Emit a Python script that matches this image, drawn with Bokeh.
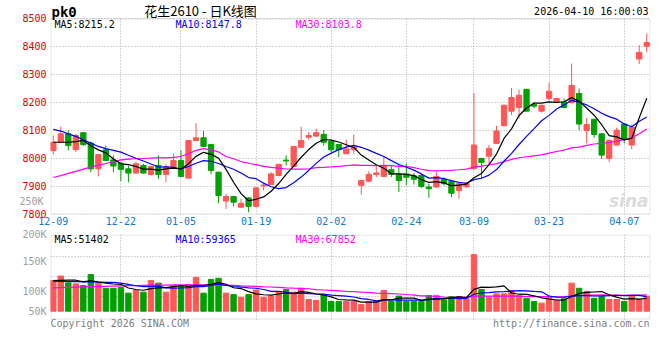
from bokeh.plotting import figure
from bokeh.layouts import column
from bokeh.models import ColumnDataSource, FixedTicker, Label, Range1d, BoxAnnotation, LinearAxis
from bokeh.embed import file_html
from bokeh.resources import INLINE

# ---------------- data ----------------
dates = ["12-09", "12-10", "12-11", "12-12", "12-15", "12-16", "12-17", "12-18", "12-19",
         "12-22", "12-23", "12-24", "12-25", "12-26", "12-29", "12-30", "12-31",
         "01-05", "01-06", "01-07", "01-08", "01-09", "01-12", "01-13", "01-14", "01-15", "01-16",
         "01-19", "01-20", "01-21", "01-22", "01-23", "01-26", "01-27", "01-28", "01-29", "01-30",
         "02-02", "02-03", "02-04", "02-05", "02-06", "02-09", "02-10", "02-11", "02-12", "02-13",
         "02-24", "02-25", "02-26", "02-27",
         "03-02", "03-03", "03-04", "03-05", "03-06",
         "03-09", "03-10", "03-11", "03-12", "03-13",
         "03-16", "03-17", "03-18", "03-19", "03-20",
         "03-23", "03-24", "03-25", "03-26", "03-27",
         "03-30", "03-31", "04-01", "04-02", "04-03",
         "04-07", "04-08", "04-09", "04-10"]

tick_dates = ["12-09", "12-22", "01-05", "01-19", "02-02", "02-24", "03-09", "03-23", "04-07"]

open_ = [8028, 8058, 8088, 8032, 8092, 8055, 7963, 8031, 7995, 7983,
         7963, 7948, 7975, 7943, 7975, 7943, 7971, 7993, 7930, 8064,
         8074, 8050, 7951, 7848, 7864, 7826, 7859, 7829, 7902, 7907,
         7939, 7994, 7971, 8040, 8076, 8080, 8086, 8061, 8050, 8017,
         8031, 7904, 7919, 7943, 7936, 7960, 7945, 7945, 7938, 7939,
         7898, 7898, 7925, 7918, 7885, 7899, 7964, 8000, 8008, 8054,
         8117, 8169, 8182, 8247, 8193, 8169, 8214, 8200, 8202, 8200,
         8232, 8100, 8140, 8088, 8000, 8048, 8123, 8048, 8355, 8401]
high = [8082, 8114, 8100, 8088, 8094, 8060, 8016, 8046, 8011, 7989,
        7974, 7989, 7981, 7972, 8011, 7981, 8017, 8029, 8066, 8126,
        8098, 8052, 7953, 7874, 7866, 7856, 7862, 7897, 7912, 7951,
        7981, 8011, 8045, 8114, 8094, 8106, 8102, 8063, 8052, 8067,
        8086, 7923, 7954, 7975, 8005, 7975, 7981, 7981, 7948, 7945,
        7910, 7951, 7933, 7920, 7915, 7916, 8234, 8002, 8048, 8117,
        8193, 8252, 8246, 8249, 8202, 8192, 8271, 8217, 8214, 8339,
        8250, 8145, 8142, 8090, 8067, 8110, 8125, 8121, 8405, 8446]
low = [8014, 8056, 8029, 8023, 8046, 7951, 7936, 7990, 7951, 7919,
       7915, 7946, 7946, 7939, 7927, 7915, 7970, 7934, 7928, 8062,
       8041, 7943, 7840, 7820, 7829, 7824, 7808, 7825, 7886, 7905,
       7937, 7975, 7970, 8038, 8067, 8076, 8046, 8023, 8005, 8015,
       8017, 7871, 7915, 7933, 7934, 7933, 7880, 7904, 7907, 7895,
       7860, 7896, 7904, 7862, 7856, 7895, 7958, 7928, 7979, 8052,
       8115, 8155, 8143, 8169, 8179, 8164, 8208, 8198, 8179, 8196,
       8101, 8054, 8074, 7998, 7988, 8046, 8054, 8033, 8337, 8379]
close = [8058, 8088, 8046, 8082, 8049, 7963, 8014, 7993, 7973, 7961,
         7948, 7981, 7948, 7971, 7943, 7971, 7993, 7936, 8064, 8074,
         8043, 7957, 7868, 7864, 7844, 7840, 7829, 7895, 7905, 7945,
         7979, 7991, 8043, 8064, 8082, 8092, 8058, 8031, 8031, 8034,
         8043, 7921, 7943, 7948, 7971, 7943, 7921, 7933, 7926, 7900,
         7892, 7936, 7910, 7876, 7910, 7911, 8048, 7986, 8036, 8098,
         8190, 8218, 8226, 8169, 8187, 8190, 8240, 8214, 8182, 8261,
         8123, 8121, 8086, 8012, 8065, 8101, 8069, 8112, 8379, 8414]

volume = [126000, 144000, 116000, 112000, 105000, 150000, 115000, 94000, 94000, 98000,
          74000, 85000, 78000, 126000, 115000, 78000, 105000, 101000, 108000, 139000,
          74000, 130000, 135000, 74000, 68000, 57000, 68000, 87000, 57000, 62000,
          78000, 89000, 78000, 94000, 48000, 44000, 68000, 40000, 40000, 40000,
          40000, 27000, 40000, 40000, 85000, 40000, 62000, 40000, 40000, 40000,
          64000, 64000, 46000, 60000, 60000, 51000, 232000, 89000, 57000, 71000,
          71000, 85000, 64000, 53000, 40000, 33000, 60000, 44000, 51000, 115000,
          94000, 81000, 53000, 60000, 48000, 48000, 40000, 62000, 48000, 62000]

# moving-average values at the start of the window (they need earlier sessions)
ma5_head = [8058, 8058, 8058, 8060]
ma10_head = [8104, 8098, 8088, 8079, 8067, 8055, 8043, 8035, 8029]
ma30_head = [7932, 7939, 7947, 7954, 7962, 7969, 7976, 7982, 7989, 7995,
             7998, 7999, 8000, 8001, 8002, 8002, 8004, 8007, 8017, 8029,
             8035, 8031, 8023, 8007, 7999, 7989, 7983, 7978, 7972]
vma5_head = [125000, 126000, 127000, 127000]
vma10_head = [123000, 122000, 121000, 121000, 120000, 120000, 119000, 118000, 118000]
vma30_head = [96000, 97000, 98000, 99000, 100000, 101000, 101000, 102000, 103000, 104000,
              105000, 105000, 106000, 107000, 107000, 107000, 108000, 108000, 108000, 108000,
              108000, 108000, 108000, 107000, 106000, 104000, 103000, 102000, 100000]

price_header = ["MA5:8215.2", "MA10:8147.8", "MA30:8103.8"]
volume_header = ["MA5:51402", "MA10:59365", "MA30:67852"]
price_ticks = [7800, 7900, 8000, 8100, 8200, 8300, 8400, 8500]
symbol = "pk0"
title_text = "花生2610 - 日K线图"
stamp = "2026-04-10 16:00:03"
copyright_text = "Copyright 2026 SINA.COM"
url_text = "http://finance.sina.com.cn"


def rolling(vals, n, head):
    out = list(head)
    for i in range(len(head), len(vals)):
        out.append(sum(vals[i - n + 1:i + 1]) / n)
    return out


RED = "#ff5656"
GREEN = "#00a000"
MONO = "DejaVu Sans Mono"
GRID = "#aaaaaa"
BORDER = "#999999"

x = list(range(len(dates)))
colors = [RED if c >= o else GREEN for o, c in zip(open_, close)]
src = ColumnDataSource(dict(
    x=x, open=open_, high=high, low=low, close=close,
    top=[max(o, c) for o, c in zip(open_, close)],
    bottom=[min(o, c) for o, c in zip(open_, close)],
    color=colors, vol=volume,
    ma5=rolling(close, 5, ma5_head), ma10=rolling(close, 10, ma10_head), ma30=rolling(close, 30, ma30_head),
    vma5=rolling(volume, 5, vma5_head), vma10=rolling(volume, 10, vma10_head),
    vma30=rolling(volume, 30, vma30_head),
))

tick_idx = [dates.index(d) for d in tick_dates]
xr = Range1d(-0.37, 79.5)

# ---------------- price panel (frame also holds the header row) ----------------
PX = 0.28          # pixels per price unit
FRAME_H1 = 214     # frame height (px); price panel occupies its lower 196 px
p1 = figure(width=652, height=FRAME_H1 + 14, x_range=xr,
            y_range=Range1d(7799.9, 7800 + FRAME_H1 / PX),
            output_backend="svg", toolbar_location=None,
            min_border_left=50, min_border_right=2, min_border_top=0, min_border_bottom=14)
p1.outline_line_color = None

p1.segment(x0="x", y0="low", x1="x", y1="high", color="color", line_width=1, source=src)
p1.vbar(x="x", top="top", bottom="bottom", width=0.7, fill_color="color", line_color="color", source=src)
p1.line("x", "ma30", color="#ff00ff", line_width=1.2, source=src)
p1.line("x", "ma10", color="#0000ff", line_width=1.2, source=src)
p1.line("x", "ma5", color="black", line_width=1.2, source=src)

p1.add_layout(BoxAnnotation(left=0.5, right=599.5, top=195.5, bottom=0.5,
                            left_units="screen", right_units="screen",
                            top_units="screen", bottom_units="screen",
                            fill_alpha=0, fill_color=None, line_color=BORDER, line_width=1))

p1.xaxis.ticker = FixedTicker(ticks=tick_idx)
p1.xaxis.major_label_overrides = {i: dates[i] for i in tick_idx}
p1.yaxis.ticker = FixedTicker(ticks=price_ticks)
for ax in (p1.xaxis[0], p1.yaxis[0]):
    ax.axis_line_color = None
    ax.major_tick_line_color = None
    ax.minor_tick_line_color = None
    ax.major_tick_out = 0
    ax.major_label_text_font = MONO
    ax.major_label_text_font_size = "10px"
p1.xaxis.major_label_text_color = "#0a7bd0"
p1.xaxis.major_label_standoff = 2
p1.yaxis.major_label_text_color = "#e00000"
p1.yaxis.major_label_standoff = 4

# stray volume label that the original draws inside the price axis column
ax250 = LinearAxis(ticker=FixedTicker(ticks=[7846]), major_label_overrides={7846: "250K"},
                   axis_line_color=None, major_tick_line_color=None, minor_tick_line_color=None,
                   major_tick_out=0, major_label_standoff=-24,
                   major_label_text_font=MONO, major_label_text_font_size="10px",
                   major_label_text_color="#a0a0a0")
p1.add_layout(ax250, "left")

p1.xgrid.ticker = FixedTicker(ticks=tick_idx[1:])
p1.xgrid.cross_bounds = (7800, 8500)
p1.ygrid.ticker = FixedTicker(ticks=price_ticks)
for g in (p1.xgrid[0], p1.ygrid[0]):
    g.grid_line_color = GRID
    g.grid_line_dash = "1 2"

hdr_cols = ["black", "#0000ff", "#ff00ff"]
hdr_x = [4, 125, 245]
for t, c, hx in zip(price_header, hdr_cols, hdr_x):
    p1.add_layout(Label(x=hx, y=190, x_units="screen", y_units="screen", text=t,
                        text_color=c, text_font=MONO, text_font_size="10px",
                        text_baseline="middle"))
p1.add_layout(Label(x=1, y=203, x_units="screen", y_units="screen", text=symbol,
                    text_color="black", text_font=MONO, text_font_size="14px",
                    text_font_style="bold", text_baseline="middle"))
p1.add_layout(Label(x=150, y=204, x_units="screen", y_units="screen", text=title_text,
                    text_color="black", text_font="Noto Sans CJK SC", text_font_size="13px",
                    text_align="center", text_baseline="middle"))
p1.add_layout(Label(x=598, y=203, x_units="screen", y_units="screen", text=stamp,
                    text_color="black", text_font=MONO, text_font_size="10px",
                    text_align="right", text_baseline="middle"))
p1.add_layout(Label(x=598, y=14, x_units="screen", y_units="screen", text="sina",
                    text_color="#dcdcdc", text_font="DejaVu Sans", text_font_size="17px",
                    text_font_style="bold italic", text_align="right", text_baseline="middle"))

# ---------------- volume panel (frame also holds the footer row) ----------------
v_scale = 4100.0   # volume units per pixel
FRAME_H2 = 100
v_end = 76.7 * v_scale
v_start = -23.3 * v_scale
v_panel_bottom = -8.3 * v_scale
vol_labels = {v_end: "200K", 49.7 * v_scale: "150K", 20.0 * v_scale: "100K", 0.0: "50K"}
vol_grid = [55.0 * v_scale, 35.0 * v_scale, 15.0 * v_scale]

p2 = figure(width=652, height=FRAME_H2 + 6, x_range=xr, y_range=Range1d(v_start, v_end),
            output_backend="svg", toolbar_location=None,
            min_border_left=50, min_border_right=2, min_border_top=6, min_border_bottom=0)
p2.outline_line_color = None
p2.vbar(x="x", top="vol", bottom=0, width=0.72, fill_color="color", line_color="color", source=src)
p2.line("x", "vma30", color="#ff00ff", line_width=1.2, source=src)
p2.line("x", "vma10", color="#0000ff", line_width=1.2, source=src)
p2.line("x", "vma5", color="black", line_width=1.2, source=src)

p2.add_layout(BoxAnnotation(left=0.5, right=599.5, top=99.5, bottom=15.5,
                            left_units="screen", right_units="screen",
                            top_units="screen", bottom_units="screen",
                            fill_alpha=0, fill_color=None, line_color=BORDER, line_width=1))

p2.xaxis.visible = False
p2.xgrid.ticker = FixedTicker(ticks=tick_idx[1:])
p2.xgrid.cross_bounds = (v_panel_bottom, v_end)
p2.yaxis.ticker = FixedTicker(ticks=list(vol_labels.keys()))
p2.yaxis.major_label_overrides = vol_labels
p2.yaxis.axis_line_color = None
p2.yaxis.major_tick_line_color = None
p2.yaxis.minor_tick_line_color = None
p2.yaxis.major_tick_out = 0
p2.yaxis.major_label_standoff = 4
p2.yaxis.major_label_text_font = MONO
p2.yaxis.major_label_text_font_size = "10px"
p2.yaxis.major_label_text_color = "#a0a0a0"
p2.ygrid.ticker = FixedTicker(ticks=vol_grid)
for g in (p2.xgrid[0], p2.ygrid[0]):
    g.grid_line_color = GRID
    g.grid_line_dash = "1 2"

for t, c, hx in zip(volume_header, hdr_cols, hdr_x):
    p2.add_layout(Label(x=hx, y=95.5, x_units="screen", y_units="screen", text=t,
                        text_color=c, text_font=MONO, text_font_size="10px",
                        text_baseline="middle"))
p2.add_layout(Label(x=0, y=11, x_units="screen", y_units="screen", text=copyright_text,
                    text_color="#808080", text_font=MONO, text_font_size="10px",
                    text_baseline="middle"))
p2.add_layout(Label(x=599, y=11, x_units="screen", y_units="screen", text=url_text,
                    text_color="#808080", text_font=MONO, text_font_size="10px",
                    text_align="right", text_baseline="middle"))

layout = column(p1, p2, spacing=0)
open("out.html", "w").write(file_html(layout, INLINE))
